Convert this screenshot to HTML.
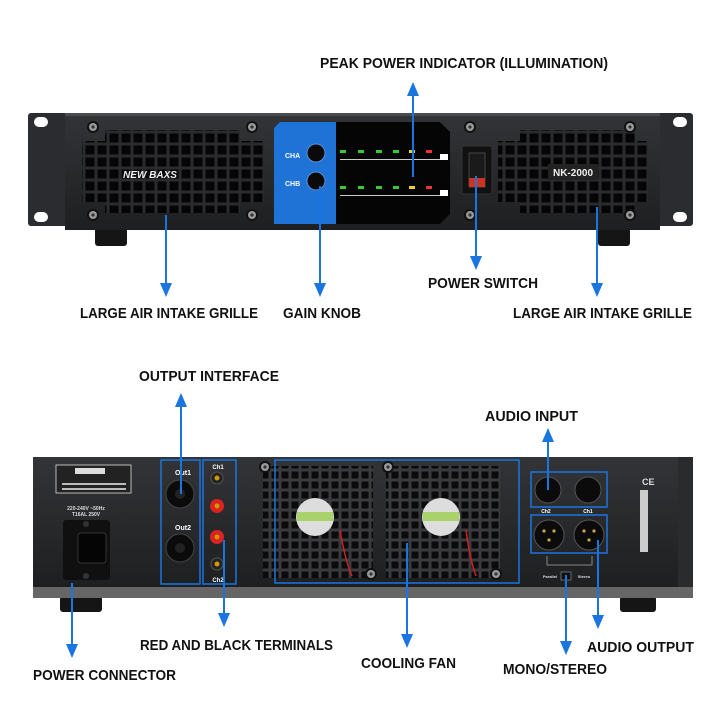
<!DOCTYPE html>
<html><head><meta charset="utf-8"><style>
html,body{margin:0;padding:0;background:#fff;}
svg{display:block}
text{font-family:"Liberation Sans Narrow","Liberation Sans",sans-serif;font-weight:bold;}
</style></head><body>
<svg width="726" height="726" viewBox="0 0 726 726" xmlns="http://www.w3.org/2000/svg">
<defs>
<pattern id="gr" x="0" y="0" width="12" height="12" patternUnits="userSpaceOnUse">
<rect width="12" height="12" fill="#2a2b2e"/><rect x="1.5" y="1.5" width="9" height="9" fill="#050505"/>
</pattern>
<pattern id="fg" x="0" y="0" width="10" height="10" patternUnits="userSpaceOnUse">
<rect width="10" height="10" fill="#3a3b3e"/><rect x="1.5" y="1.5" width="7" height="7" fill="#0a0a0b"/>
</pattern>
<linearGradient id="body" x1="0" y1="0" x2="0" y2="1"><stop offset="0" stop-color="#333437"/><stop offset="1" stop-color="#1e1f21"/></linearGradient>
<g id="screw"><circle r="6" fill="#111"/><circle r="4" fill="#9a9a9a"/><circle r="1.6" fill="#333"/></g>
</defs>
<rect width="726" height="726" fill="#fff"/>

<!-- FRONT UNIT -->
<rect x="95" y="228" width="32" height="18" rx="3" fill="#151515"/>
<rect x="598" y="228" width="32" height="18" rx="3" fill="#151515"/>
<rect x="28" y="113" width="665" height="113" rx="3" fill="#2b2c2f"/>
<rect x="65" y="113" width="595" height="117" fill="url(#body)"/>
<rect x="65" y="113" width="595" height="3" fill="#4a4b4e"/>
<rect x="34" y="117" width="14" height="10" rx="5" fill="#fff"/>
<rect x="34" y="212" width="14" height="10" rx="5" fill="#fff"/>
<rect x="673" y="117" width="14" height="10" rx="5" fill="#fff"/>
<rect x="673" y="212" width="14" height="10" rx="5" fill="#fff"/>
<!-- left grille -->
<rect x="105" y="130" width="135" height="83" fill="url(#gr)"/>
<rect x="82" y="141" width="182" height="61" fill="url(#gr)"/>
<text x="150" y="178" fill="#eee" font-size="10" font-style="italic" text-anchor="middle">NEW BAXS</text>
<!-- right grille -->
<rect x="520" y="130" width="115" height="83" fill="url(#gr)"/>
<rect x="498" y="141" width="150" height="61" fill="url(#gr)"/>
<rect x="548" y="164" width="50" height="16" fill="#222"/>
<text x="573" y="176" fill="#eee" font-size="10" text-anchor="middle" font-family="Liberation Sans">NK-2000</text>
<use href="#screw" x="93" y="127"/><use href="#screw" x="252" y="127"/>
<use href="#screw" x="93" y="215"/><use href="#screw" x="252" y="215"/>
<use href="#screw" x="470" y="127"/><use href="#screw" x="630" y="127"/>
<use href="#screw" x="470" y="215"/><use href="#screw" x="630" y="215"/>
<!-- blue panel + display -->
<path d="M280 122 H336 V224 H274 V128 Z" fill="#1f73d6"/>
<path d="M336 122 H440 L450 132 V214 L440 224 H336 Z" fill="#050505"/>
<text x="285" y="158" fill="#fff" font-size="7">CHA</text>
<text x="285" y="186" fill="#fff" font-size="7">CHB</text>
<circle cx="316" cy="153" r="9" fill="#0a0a0a" stroke="#5a8fd6" stroke-width="1"/>
<circle cx="316" cy="181" r="9" fill="#0a0a0a" stroke="#5a8fd6" stroke-width="1"/>
<g>
<rect x="340" y="150" width="6" height="3" fill="#3c3"/><rect x="358" y="150" width="6" height="3" fill="#3c3"/><rect x="376" y="150" width="6" height="3" fill="#3c3"/><rect x="393" y="150" width="6" height="3" fill="#3c3"/><rect x="409" y="150" width="6" height="3" fill="#ec3"/><rect x="426" y="150" width="6" height="3" fill="#e33"/><rect x="421" y="150" width="0" height="0"/><rect x="425" y="150" width="0" height="0"/>
<rect x="340" y="186" width="6" height="3" fill="#3c3"/><rect x="358" y="186" width="6" height="3" fill="#3c3"/><rect x="376" y="186" width="6" height="3" fill="#3c3"/><rect x="393" y="186" width="6" height="3" fill="#3c3"/><rect x="409" y="186" width="6" height="3" fill="#ec3"/><rect x="426" y="186" width="6" height="3" fill="#e33"/>
<rect x="340" y="159" width="100" height="1" fill="#ccc"/><rect x="340" y="195" width="100" height="1" fill="#ccc"/>
<rect x="440" y="154" width="8" height="6" fill="#fff"/><rect x="440" y="190" width="8" height="6" fill="#fff"/>
</g>
<!-- power switch -->
<rect x="462" y="146" width="30" height="48" rx="2" fill="#111" stroke="#333"/>
<rect x="469" y="153" width="16" height="34" fill="#1a1a1a" stroke="#444"/>
<rect x="469" y="178" width="16" height="9" fill="#c32"/>

<!-- FRONT ARROWS -->
<g stroke="#1a75e0" stroke-width="2" fill="none">
<line x1="413" y1="94" x2="413" y2="177"/>
<line x1="166" y1="215" x2="166" y2="285"/>
<line x1="320" y1="186" x2="320" y2="285"/>
<line x1="476" y1="176" x2="476" y2="258"/>
<line x1="597" y1="207" x2="597" y2="285"/>
</g>
<g fill="#1a75e0">
<path d="M413 82 L407 96 H419 Z"/>
<path d="M166 297 L160 283 H172 Z"/>
<path d="M320 297 L314 283 H326 Z"/>
<path d="M476 270 L470 256 H482 Z"/>
<path d="M597 297 L591 283 H603 Z"/>
</g>
<g font-size="15" fill="#111">
<text x="320" y="68" textLength="288" lengthAdjust="spacingAndGlyphs">PEAK POWER INDICATOR (ILLUMINATION)</text>
<text x="80" y="318" textLength="178" lengthAdjust="spacingAndGlyphs">LARGE AIR INTAKE GRILLE</text>
<text x="283" y="318" textLength="78" lengthAdjust="spacingAndGlyphs">GAIN KNOB</text>
<text x="428" y="288" textLength="110" lengthAdjust="spacingAndGlyphs">POWER SWITCH</text>
<text x="513" y="318" textLength="179" lengthAdjust="spacingAndGlyphs">LARGE AIR INTAKE GRILLE</text>
</g>

<!-- REAR UNIT -->
<rect x="60" y="596" width="42" height="16" rx="3" fill="#151515"/>
<rect x="620" y="596" width="36" height="16" rx="3" fill="#151515"/>
<rect x="33" y="586" width="660" height="12" fill="#666"/>
<rect x="33" y="457" width="660" height="130" fill="url(#body)"/>
<rect x="678" y="457" width="15" height="130" fill="#2a2b2d"/>
<!-- caution label -->
<rect x="56" y="465" width="75" height="28" fill="#222" stroke="#bbb" stroke-width="1"/>
<rect x="75" y="468" width="30" height="6" fill="#ddd"/>
<rect x="62" y="483" width="64" height="2" fill="#bbb"/><rect x="62" y="488" width="64" height="2" fill="#bbb"/>
<text x="86" y="510" fill="#ddd" font-size="5" text-anchor="middle" font-family="Liberation Sans">220-240V ~50Hz</text>
<text x="86" y="516" fill="#ddd" font-size="5" text-anchor="middle" font-family="Liberation Sans">T16AL 250V</text>
<!-- power socket -->
<rect x="63" y="520" width="47" height="60" rx="3" fill="#101010"/>
<rect x="78" y="533" width="28" height="30" rx="3" fill="#050505" stroke="#333"/>
<circle cx="86" cy="524" r="3" fill="#333"/><circle cx="86" cy="576" r="3" fill="#333"/>
<!-- speakon -->
<circle cx="180" cy="494" r="14" fill="#0b0b0b" stroke="#444"/><circle cx="180" cy="494" r="5" fill="#222"/>
<circle cx="180" cy="548" r="14" fill="#0b0b0b" stroke="#444"/><circle cx="180" cy="548" r="5" fill="#222"/>
<text x="183" y="475" fill="#fff" font-size="7" text-anchor="middle">Out1</text>
<text x="183" y="530" fill="#fff" font-size="7" text-anchor="middle">Out2</text>
<!-- terminals -->
<circle cx="217" cy="478" r="6" fill="#222" stroke="#555"/><circle cx="217" cy="478" r="2.5" fill="#c90"/>
<circle cx="217" cy="506" r="7" fill="#d22"/><circle cx="217" cy="506" r="2.5" fill="#c90"/>
<circle cx="217" cy="537" r="7" fill="#d22"/><circle cx="217" cy="537" r="2.5" fill="#c90"/>
<circle cx="217" cy="564" r="6" fill="#222" stroke="#555"/><circle cx="217" cy="564" r="2.5" fill="#c90"/>
<text x="218" y="469" fill="#fff" font-size="6" text-anchor="middle">Ch1</text>
<text x="218" y="582" fill="#fff" font-size="6" text-anchor="middle">Ch2</text>
<!-- fans -->
<rect x="263" y="466" width="110" height="112" fill="url(#fg)"/>
<rect x="386" y="466" width="114" height="112" fill="url(#fg)"/>
<circle cx="315" cy="517" r="19" fill="#ddd"/><rect x="297" y="512" width="36" height="9" fill="#a9d36a"/>
<circle cx="441" cy="517" r="19" fill="#ddd"/><rect x="423" y="512" width="36" height="9" fill="#a9d36a"/>
<path d="M340 530 Q345 560 352 576" stroke="#c22" stroke-width="1.5" fill="none"/>
<path d="M466 530 Q470 560 476 576" stroke="#c22" stroke-width="1.5" fill="none"/>
<use href="#screw" x="265" y="467"/><use href="#screw" x="388" y="467"/>
<use href="#screw" x="371" y="574"/><use href="#screw" x="496" y="574"/>
<!-- XLR -->
<circle cx="548" cy="490" r="13" fill="#0b0b0b" stroke="#555"/>
<circle cx="588" cy="490" r="13" fill="#0b0b0b" stroke="#555"/>
<circle cx="549" cy="535" r="15" fill="#0b0b0b" stroke="#555"/>
<circle cx="589" cy="535" r="15" fill="#0b0b0b" stroke="#555"/>
<g fill="#c9a44a"><circle cx="544" cy="531" r="1.6"/><circle cx="554" cy="531" r="1.6"/><circle cx="549" cy="540" r="1.6"/>
<circle cx="584" cy="531" r="1.6"/><circle cx="594" cy="531" r="1.6"/><circle cx="589" cy="540" r="1.6"/></g>
<text x="546" y="513" fill="#fff" font-size="5" text-anchor="middle">Ch2</text>
<text x="588" y="513" fill="#fff" font-size="5" text-anchor="middle">Ch1</text>
<path d="M547 556 V565 H592 V556" stroke="#888" fill="none"/>
<rect x="561" y="572" width="10" height="8" fill="#111" stroke="#666"/>
<text x="550" y="578" fill="#ddd" font-size="4" text-anchor="middle">Parallel</text>
<text x="584" y="578" fill="#ddd" font-size="4" text-anchor="middle">Stereo</text>
<text x="642" y="485" fill="#ddd" font-size="9" font-family="Liberation Sans">CE</text>
<rect x="640" y="490" width="8" height="62" fill="#ccc"/>
<!-- blue boxes -->
<g stroke="#1a75e0" stroke-width="1.5" fill="none">
<rect x="161" y="460" width="39" height="124"/>
<rect x="203" y="460" width="33" height="124"/>
<rect x="275" y="460" width="244" height="123"/>
<rect x="531" y="472" width="76" height="35"/>
<rect x="531" y="515" width="76" height="38"/>
</g>

<!-- REAR ARROWS -->
<g stroke="#1a75e0" stroke-width="2" fill="none">
<line x1="181" y1="405" x2="181" y2="494"/>
<line x1="548" y1="440" x2="548" y2="490"/>
<line x1="72" y1="583" x2="72" y2="645"/>
<line x1="224" y1="540" x2="224" y2="615"/>
<line x1="407" y1="543" x2="407" y2="635"/>
<line x1="566" y1="575" x2="566" y2="643"/>
<line x1="598" y1="540" x2="598" y2="617"/>
</g>
<g fill="#1a75e0">
<path d="M181 393 L175 407 H187 Z"/>
<path d="M548 428 L542 442 H554 Z"/>
<path d="M72 658 L66 644 H78 Z"/>
<path d="M224 627 L218 613 H230 Z"/>
<path d="M407 648 L401 634 H413 Z"/>
<path d="M566 655 L560 641 H572 Z"/>
<path d="M598 629 L592 615 H604 Z"/>
</g>
<g font-size="15" fill="#111">
<text x="139" y="381" textLength="140" lengthAdjust="spacingAndGlyphs">OUTPUT INTERFACE</text>
<text x="485" y="421" textLength="93" lengthAdjust="spacingAndGlyphs">AUDIO INPUT</text>
<text x="33" y="680" textLength="143" lengthAdjust="spacingAndGlyphs">POWER CONNECTOR</text>
<text x="140" y="650" textLength="193" lengthAdjust="spacingAndGlyphs">RED AND BLACK TERMINALS</text>
<text x="361" y="668" textLength="95" lengthAdjust="spacingAndGlyphs">COOLING FAN</text>
<text x="503" y="674" textLength="104" lengthAdjust="spacingAndGlyphs">MONO/STEREO</text>
<text x="587" y="652" textLength="107" lengthAdjust="spacingAndGlyphs">AUDIO OUTPUT</text>
</g>
</svg>
</body></html>
